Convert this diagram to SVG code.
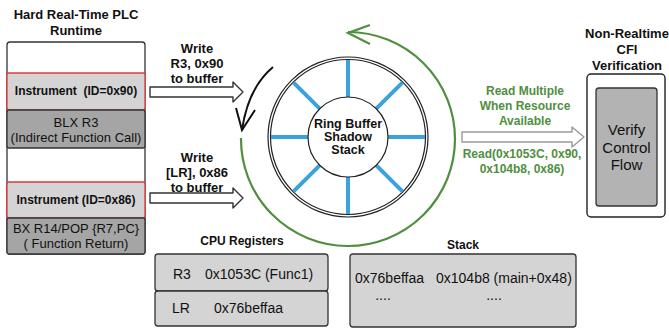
<svg xmlns="http://www.w3.org/2000/svg" width="669" height="330" viewBox="0 0 669 330">
  <style>
    text { font-family: "Liberation Sans", Arial, sans-serif; fill: #111; }
    .b { font-weight: bold; }
    .t13 { font-size: 13px; }
    .t12 { font-size: 12px; }
    .t14 { font-size: 14px; }
    .t15 { font-size: 15px; }
    .g { fill: #4f8f3f; font-weight: bold; font-size: 12px; }
    .instr { fill: #d4d4d4; stroke: #e0393e; stroke-width: 1.3; }
    .op { fill: #a5a5a5; stroke: #333; stroke-width: 1.3; }
    .reg { fill: #d4d4d4; stroke: #333; stroke-width: 1.3; }
    .hollow { fill: #fff; stroke: #333; stroke-width: 1.4; stroke-linejoin: round; }
    .spoke { stroke: #3ba3dc; stroke-width: 4; }
  </style>

  <!-- PLC runtime column -->
  <g id="plc-runtime">
    <text class="b t13" x="76" y="19" text-anchor="middle">Hard Real-Time PLC</text>
    <text class="b t13" x="76" y="35" text-anchor="middle">Runtime</text>
    <rect x="7" y="42" width="138" height="212" rx="3" fill="#fff" stroke="#333" stroke-width="1.3"/>
  </g>

  <g id="instrument-0x90">
    <rect class="instr" x="7" y="73" width="138" height="37" rx="2"/>
    <text class="b t12" x="76" y="95" text-anchor="middle" xml:space="preserve">Instrument  (ID=0x90)</text>
  </g>
  <g id="blx-r3">
    <rect class="op" x="7" y="110" width="138" height="38" rx="2"/>
    <text class="t13" x="76" y="127" text-anchor="middle">BLX R3</text>
    <text class="t13" x="76" y="142" text-anchor="middle">(Indirect Function Call)</text>
  </g>
  <g id="instrument-0x86">
    <rect class="instr" x="7" y="182" width="138" height="36" rx="2"/>
    <text class="b t12" x="76" y="204" text-anchor="middle">Instrument (ID=0x86)</text>
  </g>
  <g id="bx-r14">
    <rect class="op" x="7" y="218" width="138" height="36" rx="2"/>
    <text class="t13" x="76" y="233" text-anchor="middle">BX R14/POP {R7,PC}</text>
    <text class="t13" x="76" y="248" text-anchor="middle">( Function Return)</text>
  </g>

  <!-- Ring buffer shadow stack -->
  <g id="ring-buffer">
    <circle cx="348" cy="137" r="80" fill="#fff" stroke="#222" stroke-width="1.2"/>
    <circle cx="348" cy="137" r="77.5" fill="none" stroke="#222" stroke-width="1.2"/>
    <g class="spoke">
      <line x1="348" y1="97" x2="348" y2="60"/>
      <line x1="348" y1="177" x2="348" y2="214"/>
      <line x1="308" y1="137" x2="271" y2="137"/>
      <line x1="388" y1="137" x2="425" y2="137"/>
      <line x1="376.3" y1="108.7" x2="402.4" y2="82.6"/>
      <line x1="319.7" y1="108.7" x2="293.6" y2="82.6"/>
      <line x1="376.3" y1="165.3" x2="402.4" y2="191.4"/>
      <line x1="319.7" y1="165.3" x2="293.6" y2="191.4"/>
    </g>
    <circle cx="348" cy="137" r="40" fill="#fff" stroke="#222" stroke-width="1.2"/>
    <text class="b" font-size="12.5" x="348" y="128" text-anchor="middle">Ring Buffer</text>
    <text class="b" font-size="12.5" x="348" y="141" text-anchor="middle">Shadow</text>
    <text class="b" font-size="12.5" x="348" y="154" text-anchor="middle">Stack</text>
  </g>

  <!-- CFI verification -->
  <g id="cfi-verification">
    <text class="b t13" x="627" y="38" text-anchor="middle">Non-Realtime</text>
    <text class="b t13" x="627" y="54" text-anchor="middle">CFI</text>
    <text class="b t13" x="627" y="70" text-anchor="middle">Verification</text>
    <rect x="587" y="74" width="78" height="143" rx="4" fill="#fff" stroke="#222" stroke-width="1.4"/>
    <rect x="596" y="88" width="61" height="118" rx="3" fill="#b3b3b3" stroke="#333" stroke-width="1.3"/>
    <text class="t15" x="626.5" y="135" text-anchor="middle">Verify</text>
    <text class="t15" x="626.5" y="152.5" text-anchor="middle">Control</text>
    <text class="t15" x="626.5" y="170" text-anchor="middle">Flow</text>
  </g>

  <!-- CPU registers -->
  <g id="cpu-registers">
    <text class="b t12" x="242" y="245" text-anchor="middle">CPU Registers</text>
    <rect class="reg" x="155" y="254" width="173" height="37" rx="3"/>
    <rect class="reg" x="155" y="291" width="173" height="35" rx="3"/>
    <text class="t14" x="173" y="279">R3</text>
    <text class="t14" x="205" y="279">0x1053C (Func1)</text>
    <text class="t14" x="172" y="313">LR</text>
    <text class="t14" x="214" y="313">0x76beffaa</text>
  </g>

  <!-- Stack -->
  <g id="stack">
    <text class="b t12" x="463" y="249" text-anchor="middle">Stack</text>
    <rect class="reg" x="350" y="254" width="226" height="73" rx="3"/>
    <text class="t14" x="355" y="283">0x76beffaa</text>
    <text class="t14" x="436" y="283">0x104b8 (main+0x48)</text>
    <text class="t14" x="383" y="300" text-anchor="middle">....</text>
    <text class="t14" x="494" y="300" text-anchor="middle">....</text>
  </g>

  <!-- Connectors and their labels -->
  <g id="connectors">
    <path class="hollow" d="M150,87 L233,87 L233,82 L243,92 L233,102 L233,97 L150,97 Z"/>
    <text class="b t13" x="197" y="53" text-anchor="middle">Write</text>
    <text class="b t13" x="197" y="68" text-anchor="middle">R3, 0x90</text>
    <text class="b t13" x="197" y="83" text-anchor="middle">to buffer</text>

    <path class="hollow" d="M150,193 L233,193 L233,188 L243,198 L233,208 L233,203 L150,203 Z"/>
    <text class="b t13" x="197" y="162" text-anchor="middle">Write</text>
    <text class="b t13" x="197" y="177" text-anchor="middle">[LR], 0x86</text>
    <text class="b t13" x="197" y="192" text-anchor="middle">to buffer</text>

    <!-- ring write pointer -->
    <path d="M273,67 Q248,88 242,130" fill="none" stroke="#111" stroke-width="2"/>
    <path d="M236,108 L242,130 L255,110" fill="none" stroke="#111" stroke-width="2" stroke-linejoin="miter"/>

    <!-- ring read direction -->
    <path d="M241,138 A107,107 0 1 0 348,32" fill="none" stroke="#4f8f3f" stroke-width="2.2"/>
    <path d="M370,25 L348,33 L370,44" fill="none" stroke="#4f8f3f" stroke-width="2.2"/>

    <path d="M462,132 L572,132 L572,127 L584,137 L572,147 L572,142 L462,142 Z" fill="#fff" stroke="#999" stroke-width="1.4" stroke-linejoin="round"/>
    <text class="g" x="525" y="95" text-anchor="middle">Read Multiple</text>
    <text class="g" x="525" y="110" text-anchor="middle">When Resource</text>
    <text class="g" x="525" y="125" text-anchor="middle">Available</text>
    <text class="g" x="522" y="158" text-anchor="middle">Read(0x1053C, 0x90,</text>
    <text class="g" x="522" y="173" text-anchor="middle">0x104b8, 0x86)</text>
  </g>
</svg>
